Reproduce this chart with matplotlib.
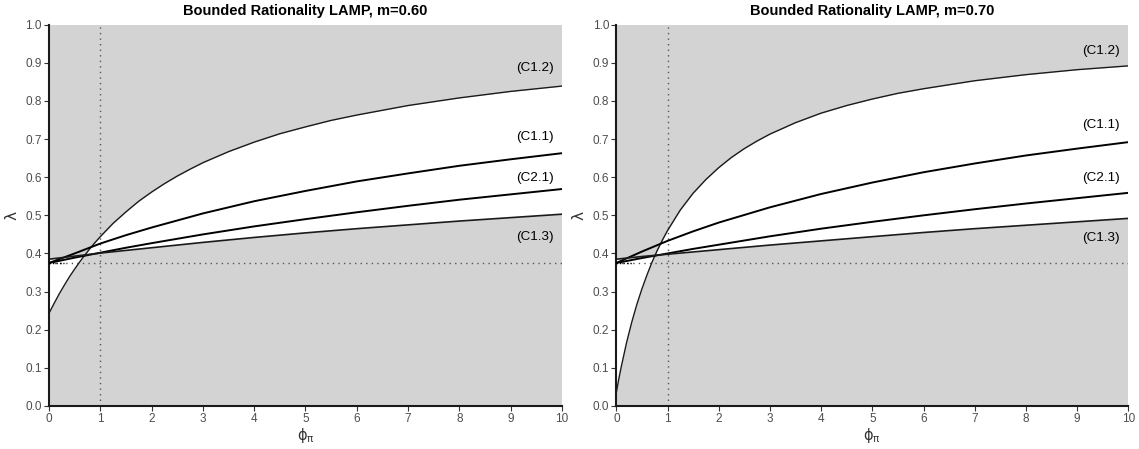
import numpy as np
import matplotlib
matplotlib.use("Agg")
import matplotlib.pyplot as plt

plt.rcParams['font.family'] = ['Liberation Sans', 'DejaVu Sans']
plt.rcParams['mathtext.fontset'] = 'dejavusans'

# ---------------- data ----------------
titles = ["Bounded Rationality LAMP, m=0.60", "Bounded Rationality LAMP, m=0.70"]

phi_fine = [0, 0.05, 0.1, 0.2, 0.3, 0.4, 0.5, 0.6, 0.7, 0.8, 0.9, 1.0, 1.25, 1.5, 1.75,
            2, 2.25, 2.5, 2.75, 3, 3.5, 4, 4.5, 5, 5.5, 6, 7, 8, 9, 10]
phi_coarse = [0, 0.5, 1, 1.5, 2, 3, 4, 5, 6, 7, 8, 9, 10]

# m = 0.60
c12_m60 = [0.243, 0.256, 0.269, 0.294, 0.317, 0.339, 0.359, 0.378, 0.396, 0.413, 0.429,
           0.444, 0.479, 0.509, 0.537, 0.561, 0.583, 0.603, 0.621, 0.638, 0.667, 0.692,
           0.714, 0.732, 0.749, 0.763, 0.788, 0.808, 0.825, 0.839]
c11_m60 = [0.375, 0.400, 0.426, 0.448, 0.468, 0.505, 0.537, 0.564, 0.589, 0.610, 0.630, 0.647, 0.663]
c21_m60 = [0.375, 0.389, 0.402, 0.415, 0.427, 0.450, 0.471, 0.490, 0.508, 0.525, 0.541, 0.555, 0.569]
c13_m60 = [0.385, 0.393, 0.401, 0.408, 0.415, 0.429, 0.442, 0.454, 0.465, 0.475, 0.485, 0.494, 0.503]

# m = 0.70
c12_m70 = [0.035, 0.072, 0.105, 0.166, 0.219, 0.266, 0.307, 0.344, 0.378, 0.408, 0.435,
           0.460, 0.514, 0.558, 0.594, 0.625, 0.652, 0.675, 0.695, 0.713, 0.743, 0.768,
           0.788, 0.805, 0.820, 0.832, 0.853, 0.869, 0.882, 0.892]
c11_m70 = [0.375, 0.405, 0.433, 0.458, 0.481, 0.521, 0.556, 0.586, 0.613, 0.636, 0.657, 0.675, 0.692]
c21_m70 = [0.375, 0.388, 0.400, 0.412, 0.423, 0.445, 0.465, 0.483, 0.500, 0.516, 0.531, 0.545, 0.559]
c13_m70 = [0.385, 0.392, 0.398, 0.404, 0.410, 0.422, 0.433, 0.444, 0.455, 0.465, 0.474, 0.483, 0.492]

curve_names = ["(C1.2)", "(C1.1)", "(C2.1)", "(C1.3)"]
label_y_m60 = [0.886, 0.705, 0.598, 0.442]
label_y_m70 = [0.931, 0.737, 0.598, 0.441]

lambda_ref = 0.375
phi_ref = 1.0

x_ticks = list(range(0, 11))
y_ticks = [round(0.1 * i, 1) for i in range(11)]

panels = [
    (titles[0], c12_m60, c11_m60, c21_m60, c13_m60, label_y_m60),
    (titles[1], c12_m70, c11_m70, c21_m70, c13_m70, label_y_m70),
]

# ---------------- drawing ----------------
fig = plt.figure(figsize=(11.39, 4.49), dpi=100)
axes_pos = [[0.0430, 0.0958, 0.4504, 0.8492], [0.5411, 0.0958, 0.4495, 0.8492]]

gray = '#D3D3D3'
tick_col = '#4D4D4D'

for pos, (title, c12, c11, c21, c13, lab_y) in zip(axes_pos, panels):
    ax = fig.add_axes(pos)
    ax.set_xlim(0, 10)
    ax.set_ylim(0, 1)

    # shading: gray everywhere, white between C1.2 and C1.3
    ax.fill_between([0, 10], 0, 1, color=gray, lw=0, zorder=0)
    xf = np.array(phi_fine, dtype=float)
    c13_f = np.interp(xf, phi_coarse, c13)
    ax.fill_between(xf, c12, c13_f, color='white', lw=0, zorder=1)

    # reference lines
    ax.plot([phi_ref, phi_ref], [0, 1], color='#555555', ls=(0, (1, 3)), lw=1.0, zorder=2)
    ax.plot([0, 10], [lambda_ref, lambda_ref], color='#555555', ls=(0, (1, 3)), lw=1.0, zorder=2)
    ax.plot([0, 0.3], [lambda_ref, lambda_ref], color='black', ls=(0, (1, 1.5)), lw=1.0, zorder=2)

    # curves
    ax.plot(phi_fine, c12, color='#1a1a1a', lw=1.0, zorder=3)
    ax.plot(phi_coarse, c11, color='black', lw=1.4, zorder=3)
    ax.plot(phi_coarse, c21, color='black', lw=1.4, zorder=3)
    ax.plot(phi_coarse, c13, color='#1a1a1a', lw=1.2, zorder=3)

    for name, yv in zip(curve_names, lab_y):
        ax.text(9.84, yv, name, ha='right', va='center', fontsize=9.7, color='black', zorder=4)

    ax.set_title(title, fontsize=10.5, fontweight='bold', pad=7)
    ax.set_xticks(x_ticks)
    ax.set_yticks(y_ticks)
    ax.set_xticklabels([str(t) for t in x_ticks])
    ax.set_yticklabels([f"{t:.1f}" for t in y_ticks])
    ax.tick_params(axis='both', direction='out', length=3.5, width=0.8, colors='#333333',
                   labelcolor=tick_col, labelsize=8.5, pad=1.5)
    for s in ['top', 'right']:
        ax.spines[s].set_visible(False)
    for s in ['left', 'bottom']:
        ax.spines[s].set_linewidth(1.5)
        ax.spines[s].set_color('#1a1a1a')
    ax.set_xlabel(r'$\mathrm{\phi}_{\mathrm{\pi}}$', fontsize=10.5, color='#333333', labelpad=1)
    ax.set_ylabel(r'$\mathrm{\lambda}$', fontsize=11, color='#333333', labelpad=4)

fig.savefig('out.png', dpi=100)
